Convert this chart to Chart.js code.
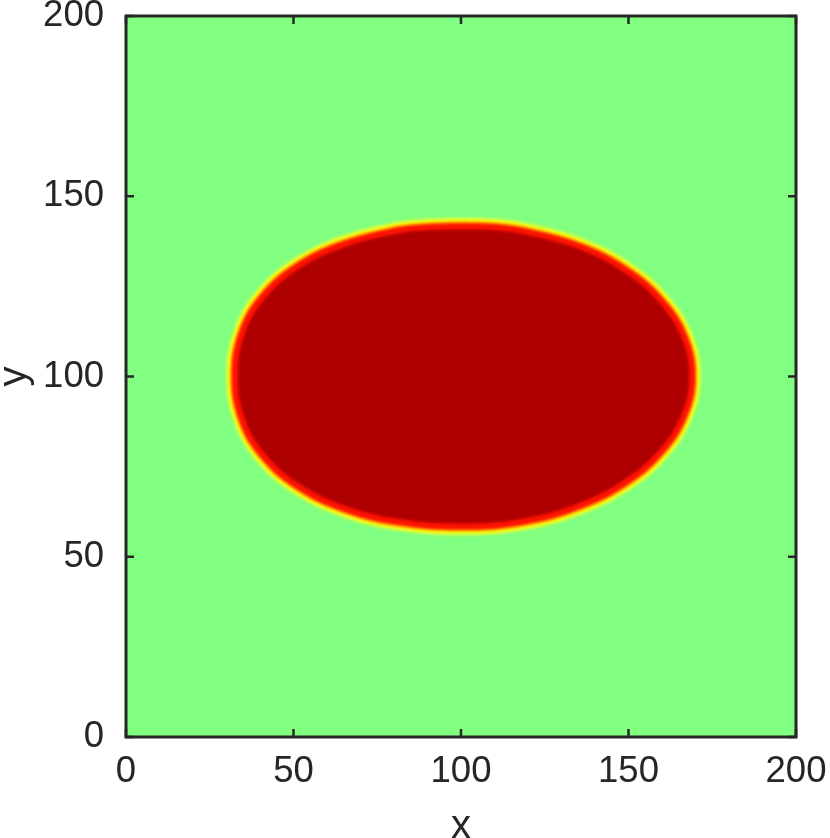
<!DOCTYPE html>
<html>
<head>
<meta charset="utf-8">
<script src="https://cdn.jsdelivr.net/npm/chart.js@4/dist/chart.umd.min.js"></script>
<style>
  html, body { margin: 0; padding: 0; background: #fff; }
  #wrap { width: 830px; height: 838px; }
</style>
</head>
<body>
<div id="wrap"><canvas id="c" width="830" height="838"></canvas></div>
<script>
// interface contour (x, y in plot units), closed loop
const contourX = [101.2, 110.0, 118.8, 135.1, 149.1, 159.9, 166.7, 169.0, 166.7, 159.9, 149.1, 135.1, 118.8, 101.2, 81.1, 64.7, 51.1, 41.0, 34.7, 32.5, 34.7, 41.0, 51.1, 64.7, 81.1, 90.4, 101.2];
const contourY = [141.7, 141.4, 140.3, 136.2, 129.6, 120.9, 110.9, 100.1, 89.4, 79.3, 70.6, 64.0, 59.8, 58.4, 59.7, 63.5, 69.7, 77.9, 87.9, 100.1, 112.3, 122.3, 130.5, 136.6, 140.5, 141.4, 141.7];
const xTicks = [0, 50, 100, 150, 200];
const yTicks = [0, 50, 100, 150, 200];
const xLabel = "x";
const yLabel = "y";

const pts = contourX.map((x, i) => ({ x: x, y: contourY[i] }));

// rings drawn bottom -> top, the filled one covers the inner halves
const ring = (color, width, order, fill) => ({
  data: pts,
  showLine: true,
  tension: 0.4,
  pointRadius: 0,
  borderColor: color,
  borderWidth: width,
  backgroundColor: '#ae0000',
  fill: fill ? 'shape' : false,
  order: order
});

const ink = '#262626';
const font = 'Liberation Sans, Arial, Helvetica, sans-serif';

const background = {
  id: 'background',
  beforeDatasetsDraw(chart) {
    const { ctx, chartArea: a } = chart;
    ctx.save();
    ctx.fillStyle = '#80ff80';
    ctx.fillRect(a.left, a.top, a.right - a.left, a.bottom - a.top);
    ctx.restore();
    ctx.save();
    ctx.filter = 'blur(1.5px)';
  },
  afterDatasetsDraw(chart) {
    chart.ctx.restore();
  }
};

const frame = {
  id: 'frame',
  afterDraw(chart) {
    const { ctx, chartArea: a, scales } = chart;
    ctx.save();
    ctx.strokeStyle = ink;
    ctx.lineWidth = 2.5;
    ctx.beginPath();
    xTicks.forEach(v => {
      const px = scales.x.getPixelForValue(v);
      ctx.moveTo(px, a.bottom); ctx.lineTo(px, a.bottom - 8);
      ctx.moveTo(px, a.top); ctx.lineTo(px, a.top + 8);
    });
    yTicks.forEach(v => {
      const py = scales.y.getPixelForValue(v);
      ctx.moveTo(a.left, py); ctx.lineTo(a.left + 8, py);
      ctx.moveTo(a.right, py); ctx.lineTo(a.right - 8, py);
    });
    ctx.stroke();
    ctx.lineWidth = 3;
    ctx.strokeRect(a.left, a.top, a.right - a.left, a.bottom - a.top);
    ctx.restore();
  }
};

new Chart(document.getElementById('c'), {
  type: 'scatter',
  data: {
    datasets: [
      ring('#ff1000', 6, 1, true),
      ring('#ff9000', 9, 2, false),
      ring('#ffff00', 14, 3, false),
      ring('#c4ff55', 18, 4, false)
    ]
  },
  options: {
    responsive: false,
    animation: false,
    layout: { padding: { left: 0, right: 34, top: 16, bottom: 0 } },
    plugins: { legend: { display: false }, tooltip: { enabled: false } },
    scales: {
      x: {
        type: 'linear',
        min: 0, max: 200,
        afterBuildTicks: s => { s.ticks = xTicks.map(v => ({ value: v })); },
        afterFit: s => { s.height = 101; s.paddingLeft = 0; s.paddingRight = 0; },
        grid: { display: false, drawTicks: false },
        border: { display: false },
        ticks: { color: ink, font: { family: font, size: 36.5 }, padding: 13, maxRotation: 0 },
        title: { display: true, text: xLabel, color: ink, font: { family: font, size: 40, lineHeight: 1 }, padding: { top: 0, bottom: -9 } }
      },
      y: {
        type: 'linear',
        min: 0, max: 200,
        afterBuildTicks: s => { s.ticks = yTicks.map(v => ({ value: v })); },
        afterFit: s => { s.width = 126; s.paddingTop = 0; s.paddingBottom = 0; },
        grid: { display: false, drawTicks: false },
        border: { display: false },
        ticks: { color: ink, font: { family: font, size: 36.5 }, padding: 22 },
        title: { display: true, text: yLabel, color: ink, font: { family: font, size: 40, lineHeight: 1 }, padding: { top: -5, bottom: 0 } }
      }
    }
  },
  plugins: [background, frame]
});
</script>
</body>
</html>
